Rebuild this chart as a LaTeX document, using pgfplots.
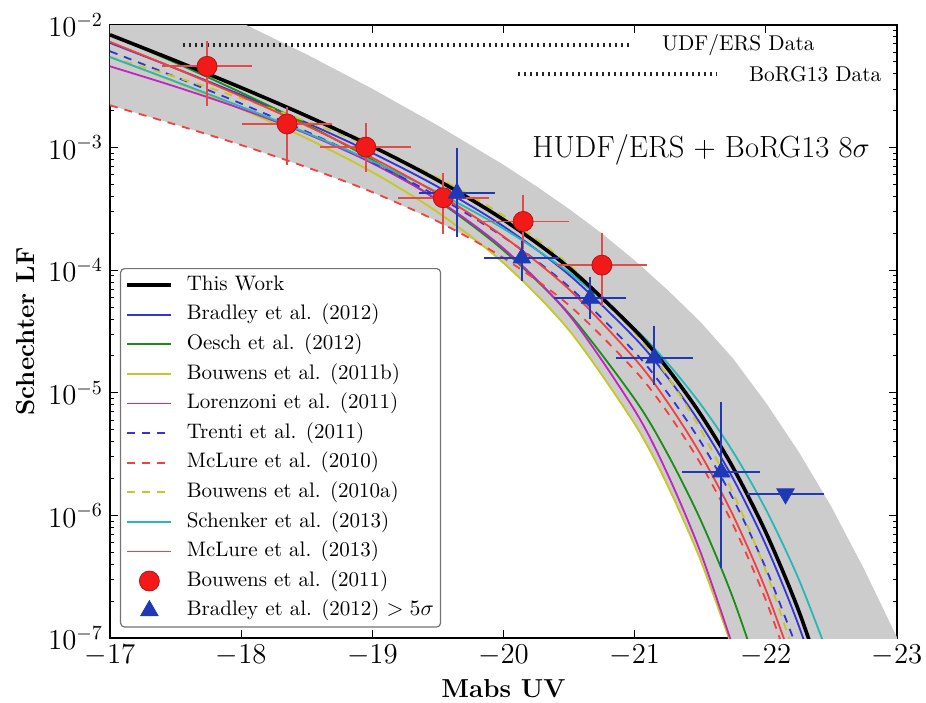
\documentclass[border=0pt]{standalone}
\usepackage{fontspec}
\usepackage{pgfplots}
\pgfplotsset{compat=1.18}
\usepackage{pgfplotstable}

\definecolor{mblue}{rgb}{0.2,0.2,0.85}
\definecolor{mgreen}{rgb}{0.1,0.55,0.1}
\definecolor{myellow}{rgb}{0.78,0.78,0.15}
\definecolor{mmag}{rgb}{0.75,0.15,0.75}
\definecolor{mred}{rgb}{0.95,0.25,0.25}
\definecolor{mcyan}{rgb}{0.15,0.72,0.72}
\definecolor{bandgray}{gray}{0.80}
\definecolor{ptred}{rgb}{0.95,0.1,0.1}
\definecolor{errred}{rgb}{0.88,0.3,0.3}
\definecolor{ptblue}{rgb}{0.12,0.22,0.72}

% log10 of the luminosity function
\pgfplotstableread{
M L
-17.0 -2.080
-17.5 -2.292
-18.0 -2.511
-18.5 -2.742
-19.0 -2.990
-19.5 -3.267
-20.0 -3.588
-20.5 -3.981
-21.0 -4.487
-21.25 -4.801
-21.5 -5.171
-21.75 -5.610
-22.0 -6.138
-22.25 -6.776
-22.5 -7.554
}\tabTW
\pgfplotstableread{
M L
-17.0 -2.146
-17.5 -2.354
-18.0 -2.570
-18.5 -2.798
-19.0 -3.044
-19.5 -3.320
-20.0 -3.642
-20.5 -4.038
-21.0 -4.551
-21.25 -4.871
-21.5 -5.249
-21.75 -5.699
-22.0 -6.241
-22.25 -6.897
-22.5 -7.698
}\tabBrad
\pgfplotstableread{
M L
-17.0 -2.077
-17.5 -2.308
-18.0 -2.551
-18.5 -2.811
-19.0 -3.100
-19.5 -3.433
-20.0 -3.838
-20.5 -4.355
-21.0 -5.051
-21.25 -5.497
-21.5 -6.031
-21.75 -6.675
-22.0 -7.458
}\tabOesch
\pgfplotstableread{
M L
-17.0 -2.261
-17.5 -2.466
-18.0 -2.685
-18.5 -2.925
-19.0 -3.200
-19.5 -3.528
-20.0 -3.941
-20.5 -4.490
-21.0 -5.254
-21.25 -5.754
-21.5 -6.359
-21.75 -7.097
}\tabBouwB
\pgfplotstableread{
M L
-17.0 -2.337
-17.5 -2.503
-18.0 -2.683
-18.5 -2.887
-19.0 -3.128
-19.5 -3.428
-20.0 -3.822
-20.5 -4.365
-21.0 -5.143
-21.25 -5.661
-21.5 -6.294
-21.75 -7.074
}\tabLorenz
\pgfplotstableread{
M L
-17.0 -2.214
-17.5 -2.424
-18.0 -2.641
-18.5 -2.870
-19.0 -3.119
-19.5 -3.400
-20.0 -3.729
-20.5 -4.136
-21.0 -4.667
-21.25 -5.000
-21.5 -5.394
-21.75 -5.864
-22.0 -6.431
-22.25 -7.119
}\tabTrenti
\pgfplotstableread{
M L
-17.0 -2.655
-17.5 -2.812
-18.0 -2.979
-18.5 -3.160
-19.0 -3.363
-19.5 -3.603
-20.0 -3.899
-20.5 -4.286
-21.0 -4.816
-21.25 -5.159
-21.5 -5.573
-21.75 -6.076
-22.0 -6.690
-22.25 -7.445
}\tabMcTen
\pgfplotstableread{
M L
-17.0 -2.260
-17.5 -2.424
-18.0 -2.598
-18.5 -2.786
-19.0 -2.998
-19.5 -3.247
-20.0 -3.555
-20.5 -3.957
-21.0 -4.508
-21.25 -4.864
-21.5 -5.294
-21.75 -5.816
-22.0 -6.453
-22.25 -7.237
}\tabBouwA
\pgfplotstableread{
M L
-17.0 -2.262
-17.5 -2.461
-18.0 -2.666
-18.5 -2.880
-19.0 -3.111
-19.5 -3.366
-20.0 -3.661
-20.5 -4.019
-21.0 -4.475
-21.25 -4.757
-21.5 -5.089
-21.75 -5.481
-22.0 -5.951
-22.25 -6.518
-22.5 -7.208
}\tabSchenk
\pgfplotstableread{
M L
-17.0 -2.137
-17.5 -2.355
-18.0 -2.582
-18.5 -2.822
-19.0 -3.083
-19.5 -3.377
-20.0 -3.725
-20.5 -4.156
-21.0 -4.721
-21.25 -5.076
-21.5 -5.496
-21.75 -5.999
-22.0 -6.606
-22.25 -7.343
}\tabMcThirteen
% grey band: upper edge left to right, then lower edge right to left
\pgfplotstableread{
M L
-17.0 -1.45
-17.5 -1.72
-18.0 -1.98
-18.5 -2.24
-19.0 -2.52
-19.5 -2.82
-20.0 -3.14
-20.25 -3.315
-20.5 -3.50
-20.75 -3.70
-21.0 -3.92
-21.25 -4.16
-21.5 -4.42
-21.75 -4.72
-22.0 -5.08
-22.25 -5.48
-22.5 -5.93
-22.75 -6.44
-23.0 -6.995
-23.0 -7.30
-21.82 -7.30
-21.75 -7.10
-21.5 -6.36
-21.25 -5.754
-21.0 -5.254
-20.75 -4.860
-20.5 -4.490
-20.25 -4.200
-20.0 -3.941
-19.8 -3.770
-19.5 -3.603
-19.0 -3.363
-18.5 -3.160
-18.0 -2.979
-17.5 -2.812
-17.0 -2.655
}\tabBand
\pgfplotstableread{
M P ex yp ym
-17.74 4.6e-3 0.30 2.0e-3 2.15e-3
-18.35 1.56e-3 0.30 0.35e-3 0.75e-3
-18.95 1.01e-3 0.30 0.40e-3 0.30e-3
-19.54 3.9e-4 0.30 1.6e-4 1.7e-4
-20.15 2.5e-4 0.30 1.2e-4 0.84e-4
-20.75 1.1e-4 0.30 0.7e-4 0.53e-4
}\tabBouwPts
\pgfplotstableread{
M P ex yp ym
-19.645 4.25e-4 0.245 4.65e-4 2.15e-4
-20.14 1.26e-4 0.24 0.3e-4 0.35e-4
-20.66 5.9e-5 0.23 2.0e-5 1.4e-5
-21.15 1.92e-5 0.25 1.2e-5 0.62e-5
-21.66 2.26e-6 0.25 5.2e-6 1.84e-6
}\tabBradPts
\pgfplotstableread{
M P ex
-22.15 1.5e-6 0.25
}\tabBradLim

\pgfplotsset{
  legline/.style={legend image code/.code={\draw[#1] (0pt,0pt) -- (22pt,0pt);}},
  markleg/.style={legend image code/.code={\draw[##1] plot[only marks] coordinates {(11pt,0pt)};}},
  dsh/.style={dash pattern=on 4pt off 3.5pt},
}

\begin{document}
\begin{tikzpicture}
\begin{axis}[name=ax, scale only axis, width=393.5pt, height=306.5pt,
  xmin=-23, xmax=-17, x dir=reverse,
  ymode=log, ymin=1e-7, ymax=1e-2,
  xtick={-17,-18,-19,-20,-21,-22,-23},
  ytick={1e-7,1e-6,1e-5,1e-4,1e-3,1e-2},
  tick pos=both, tick align=inside,
  major tick length=4pt, minor tick length=2pt,
  every tick/.style={black, line width=0.5pt},
  axis line style={line width=0.8pt},
  tick label style={font=\fontsize{14}{16}\selectfont},
  xlabel={\textbf{Mabs UV}}, ylabel={\textbf{Schechter LF}},
  label style={font=\fontsize{13}{15}\selectfont},
  legend cell align=left,
  legend style={at={(axis description cs:0.0127,0.6036)}, anchor=north west,
    font=\fontsize{10.5}{12}\selectfont, draw=black!55, line width=0.6pt,
    rounded corners=2pt, inner sep=2.5pt, row sep=3.4pt, column sep=6pt,
    nodes={inner sep=0.8pt, text height=7.5pt, text depth=2.3pt}},
]
\addplot[forget plot, fill=bandgray, draw=none] table[x=M, y expr={10^(\thisrow{L})}] {\tabBand} -- cycle;
\addplot[forget plot, black!85, line width=2pt, dash pattern=on 0.9pt off 2.1pt] coordinates {(-17.556,6.87e-3) (-20.963,6.87e-3)};
\addplot[forget plot, black!85, line width=2pt, dash pattern=on 0.9pt off 2.1pt] coordinates {(-20.11,3.98e-3) (-21.62,3.98e-3)};

\addplot[forget plot, mblue, line width=0.9pt, smooth] table[x=M, y expr={10^(\thisrow{L})}] {\tabBrad};
\addplot[forget plot, mgreen, line width=0.9pt, smooth] table[x=M, y expr={10^(\thisrow{L})}] {\tabOesch};
\addplot[forget plot, myellow, line width=0.9pt, smooth] table[x=M, y expr={10^(\thisrow{L})}] {\tabBouwB};
\addplot[forget plot, mmag, line width=0.9pt, smooth] table[x=M, y expr={10^(\thisrow{L})}] {\tabLorenz};
\addplot[forget plot, mblue, line width=0.9pt, smooth, dsh] table[x=M, y expr={10^(\thisrow{L})}] {\tabTrenti};
\addplot[forget plot, mred, line width=0.9pt, smooth, dsh] table[x=M, y expr={10^(\thisrow{L})}] {\tabMcTen};
\addplot[forget plot, myellow, line width=0.9pt, smooth, dsh] table[x=M, y expr={10^(\thisrow{L})}] {\tabBouwA};
\addplot[forget plot, mcyan, line width=0.9pt, smooth] table[x=M, y expr={10^(\thisrow{L})}] {\tabSchenk};
\addplot[forget plot, mred, line width=0.9pt, smooth] table[x=M, y expr={10^(\thisrow{L})}] {\tabMcThirteen};
\addplot[forget plot, black, line width=1.8pt, smooth] table[x=M, y expr={10^(\thisrow{L})}] {\tabTW};

\addplot[forget plot, only marks, mark=*, mark size=5pt, mark options={fill=ptred, draw=ptred!75!black, line width=0.4pt},
  error bars/.cd, x dir=both, x explicit, y dir=both, y explicit,
  error bar style={draw=errred, line width=0.9pt},
  error mark options={draw=errred, mark size=3pt, line width=0.9pt}]
  table[x=M, y=P, x error=ex, y error plus=yp, y error minus=ym] {\tabBouwPts};
\addplot[forget plot, only marks, mark=triangle*, mark size=5pt, mark options={fill=ptblue, draw=ptblue, line width=0.4pt},
  error bars/.cd, x dir=both, x explicit, y dir=both, y explicit,
  error bar style={draw=ptblue, line width=0.9pt},
  error mark options={draw=ptblue, mark size=3pt, line width=0.9pt}]
  table[x=M, y=P, x error=ex, y error plus=yp, y error minus=ym] {\tabBradPts};
\addplot[forget plot, only marks, mark=triangle*, mark size=5pt, mark options={fill=ptblue, draw=ptblue, line width=0.4pt, rotate=180},
  error bars/.cd, x dir=both, x explicit,
  error bar style={draw=ptblue, line width=0.9pt},
  error mark options={draw=ptblue, mark size=3pt, line width=0.9pt}]
  table[x=M, y=P, x error=ex] {\tabBradLim};

\addlegendimage{legline={black, line width=1.8pt}}
\addlegendentry{This Work}
\addlegendimage{legline={mblue, line width=0.9pt}}
\addlegendentry{Bradley et al. (2012)}
\addlegendimage{legline={mgreen, line width=0.9pt}}
\addlegendentry{Oesch et al. (2012)}
\addlegendimage{legline={myellow, line width=0.9pt}}
\addlegendentry{Bouwens et al. (2011b)}
\addlegendimage{legline={mmag, line width=0.9pt}}
\addlegendentry{Lorenzoni et al. (2011)}
\addlegendimage{legline={mblue, line width=0.9pt, dash pattern=on 4pt off 3.5pt}}
\addlegendentry{Trenti et al. (2011)}
\addlegendimage{legline={mred, line width=0.9pt, dash pattern=on 4pt off 3.5pt}}
\addlegendentry{McLure et al. (2010)}
\addlegendimage{legline={myellow, line width=0.9pt, dash pattern=on 4pt off 3.5pt}}
\addlegendentry{Bouwens et al. (2010a)}
\addlegendimage{legline={mcyan, line width=0.9pt}}
\addlegendentry{Schenker et al. (2013)}
\addlegendimage{legline={mred, line width=0.9pt}}
\addlegendentry{McLure et al. (2013)}
\addlegendimage{markleg, only marks, mark=*, mark size=5pt, mark options={fill=ptred, draw=ptred!75!black, line width=0.4pt}}
\addlegendentry{Bouwens et al. (2011)}
\addlegendimage{markleg, only marks, mark=triangle*, mark size=5pt, mark options={fill=ptblue, draw=ptblue, line width=0.4pt}}
\addlegendentry{Bradley et al. (2012) $>5\sigma$}

\node[anchor=west, font=\fontsize{10.7}{12}\selectfont] at (axis description cs:0.6925,0.9674) {UDF/ERS Data};
\node[anchor=west, font=\fontsize{10.7}{12}\selectfont] at (axis description cs:0.8030,0.9201) {BoRG13 Data};
\node[font=\fontsize{15.3}{17}\selectfont] at (axis description cs:0.751,0.796) {HUDF/ERS + BoRG13 8$\sigma$};
\end{axis}
\pgfresetboundingbox
\path[use as bounding box] ([shift={(-55pt,-32pt)}]ax.south west) rectangle ([shift={(14.5pt,12.5pt)}]ax.north east);
\end{tikzpicture}
\end{document}
